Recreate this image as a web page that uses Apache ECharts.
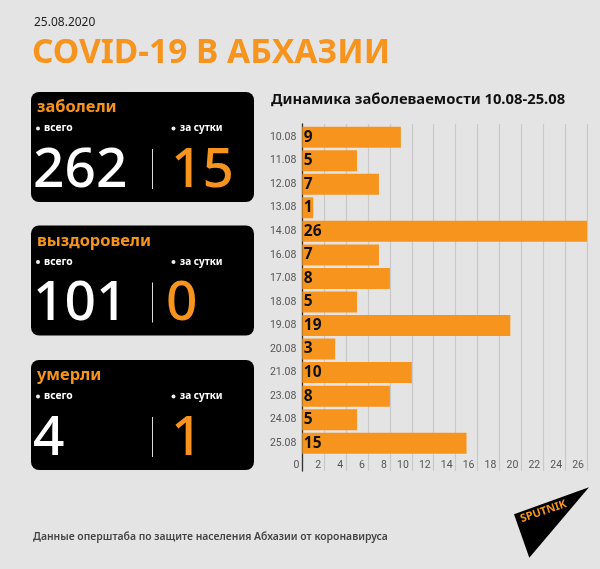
<!DOCTYPE html>
<html>
<head>
<meta charset="utf-8">
<style>
  html, body { margin: 0; padding: 0; background: #e4e4e4; }
  #chart { width: 600px; height: 569px; }
</style>
<script src="https://cdn.jsdelivr.net/npm/echarts@6/dist/echarts.min.js"></script>
</head>
<body>
<div id="chart"></div>
<script>
const categories = ['10.08', '11.08', '12.08', '13.08', '14.08', '16.08', '17.08', '18.08', '19.08', '20.08', '21.08', '23.08', '24.08', '25.08'];
const dailyCases = [9, 5, 7, 1, 26, 7, 8, 5, 19, 3, 10, 8, 5, 15];

const cardNames = ['заболели', 'выздоровели', 'умерли'];
const cardTotals = ['262', '101', '4'];
const cardDaily = ['15', '0', '1'];
const cardTops = [92, 225.5, 360];
const cardDailyLeft = [171, 166, 171];

const ORANGE = '#f7941d';
const FONT = '"Noto Sans", sans-serif';

const chart = echarts.init(document.getElementById('chart'), null, { renderer: 'canvas' });

function txt(x, y, text, size, weight, fill, extra) {
    return {
        type: 'text',
        x: x,
        y: y,
        style: Object.assign({
            text: text,
            fontFamily: FONT,
            fontSize: size,
            fontWeight: weight,
            fill: fill,
            textVerticalAlign: 'middle'
        }, extra || {})
    };
}

// карточки слева
const cards = [];
cardNames.forEach((name, i) => {
    const top = cardTops[i];
    cards.push({
        type: 'rect',
        shape: { x: 31, y: top, width: 223, height: 110, r: 8 },
        style: { fill: '#000' }
    });
    cards.push(txt(37, top + 15.5, name, 16.4, 700, ORANGE));
    cards.push({ type: 'circle', shape: { cx: 38, cy: top + 36.5, r: 2 }, style: { fill: '#eee' } });
    cards.push(txt(44, top + 36.5, 'всего', 10.3, 700, '#fff'));
    cards.push({ type: 'circle', shape: { cx: 173.5, cy: top + 36.5, r: 2 }, style: { fill: '#eee' } });
    cards.push(txt(180, top + 36.5, 'за сутки', 10, 700, '#fff'));
    cards.push(txt(33, top + 79, cardTotals[i], 55, 500, '#fff'));
    cards.push({
        type: 'rect',
        shape: { x: 152, y: top + 57, width: 1, height: 40 },
        style: { fill: '#ddd' }
    });
    cards.push(txt(cardDailyLeft[i], top + 79, cardDaily[i], 55, 500, ORANGE));
});

const option = {
    animation: false,
    backgroundColor: '#e4e4e4',
    textStyle: { fontFamily: FONT },
    // первая сетка только для линий и подписей, вторая для столбиков
    grid: [
        { left: 302.3, width: 284.7, top: 124, height: 347 },
        { left: 302.3, width: 284.7, top: 125.4, height: 329.6 }
    ],
    xAxis: [
        {
            gridIndex: 0,
            type: 'value',
            min: 0,
            max: 26,
            interval: 2,
            axisLine: { show: false },
            axisTick: { show: false },
            splitLine: { show: true, lineStyle: { color: '#c9c9c9', width: 1.2 } },
            axisLabel: {
                inside: true,
                margin: 0,
                align: 'right',
                padding: [0, 3, 0, 0],
                color: '#555',
                fontSize: 10.5,
                fontFamily: 'Roboto, sans-serif'
            }
        },
        { gridIndex: 1, type: 'value', min: 0, max: 26, show: false }
    ],
    yAxis: [
        {
            gridIndex: 0,
            type: 'value',
            min: 0,
            max: 1,
            axisLine: { show: true, lineStyle: { color: '#333', width: 1.3 } },
            axisTick: { show: false },
            axisLabel: { show: false },
            splitLine: { show: false }
        },
        {
            gridIndex: 1,
            type: 'category',
            inverse: true,
            data: categories,
            axisLine: { show: false },
            axisTick: { show: false },
            axisLabel: {
                color: '#555',
                fontSize: 10.5,
                margin: 6,
                fontFamily: 'Roboto, sans-serif'
            }
        }
    ],
    series: [{
        type: 'bar',
        xAxisIndex: 1,
        yAxisIndex: 1,
        data: dailyCases,
        barWidth: 21,
        z: 3,
        itemStyle: { color: ORANGE },
        label: {
            show: true,
            position: 'insideLeft',
            distance: 1.5,
            color: '#111',
            fontFamily: FONT,
            fontSize: 15.5,
            fontWeight: 700
        }
    }],
    graphic: [
        txt(34, 23, '25.08.2020', 12, 400, '#222'),
        txt(32, 53, 'COVID-19 В АБХАЗИИ', 33.5, 700, ORANGE),
        txt(271, 100, 'Динамика заболеваемости 10.08-25.08', 14.8, 700, '#111'),
        txt(33, 537, 'Данные оперштаба по защите населения Абхазии от коронавируса', 10.4, 600, '#444'),
        {
            type: 'polygon',
            shape: { points: [[589, 487.3], [514, 514.3], [529.3, 557.7]] },
            style: { fill: '#000' }
        },
        {
            type: 'text',
            x: 543.5,
            y: 511.5,
            rotation: 0.33,
            style: {
                text: 'SPUTNIK',
                fontFamily: FONT,
                fontSize: 11,
                fontWeight: 700,
                fill: ORANGE,
                textAlign: 'center',
                textVerticalAlign: 'middle'
            }
        }
    ].concat(cards)
};

chart.setOption(option);
</script>
</body>
</html>
